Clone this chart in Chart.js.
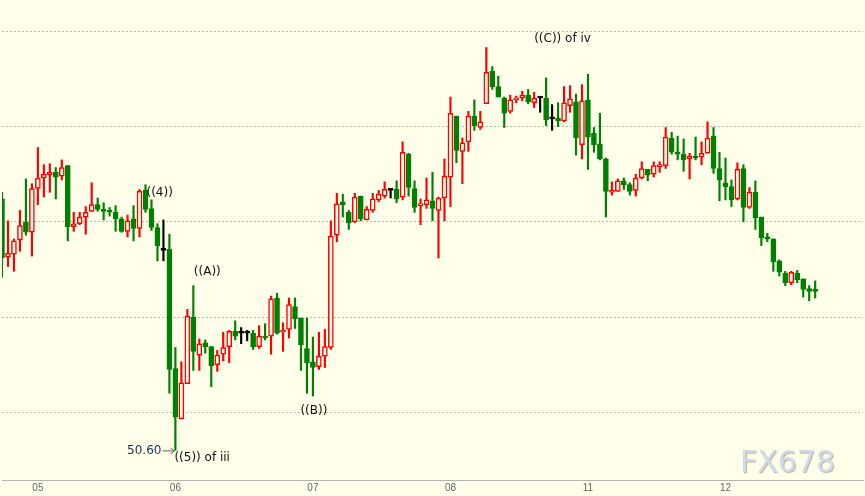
<!DOCTYPE html>
<html>
<head>
<meta charset="utf-8">
<script src="https://cdn.jsdelivr.net/npm/chart.js@4.4.1/dist/chart.umd.min.js"></script>
<style>
  body { margin: 0; background: #ffffea; }
  #wrap { width: 865px; height: 496px; }
</style>
</head>
<body>
<div id="wrap"><canvas id="candles"></canvas></div>
<script>
// hourly bars, 23 per session
var opens = [53.24,52.63,52.66,52.81,53.00,52.89,53.35,53.46,53.49,53.52,53.48,53.59,52.95,52.98,53.05,53.11,53.18,53.12,53.11,53.10,53.03,52.90,53.03,52.93,
  53.33,53.14,52.94,52.70,52.71,51.46,50.93,51.30,52.00,51.60,51.73,51.69,51.50,51.61,51.69,51.85,51.83,51.83,51.83,51.69,51.80,51.80,52.20,51.84,
  51.87,52.11,51.99,51.67,51.53,51.48,51.59,51.68,52.86,53.21,53.10,53.00,53.27,53.02,53.12,53.23,53.27,53.33,53.34,53.26,53.71,53.35,53.17,53.18,
  53.22,53.12,53.25,53.47,54.11,53.74,53.84,54.11,53.99,54.24,54.58,54.42,54.30,54.16,54.28,54.30,54.33,54.25,54.30,54.30,54.08,54.09,54.06,54.22,
  54.26,53.81,54.28,53.93,53.82,53.66,53.31,53.32,53.43,53.39,53.33,53.46,53.55,53.50,53.58,53.59,53.88,53.73,53.71,53.66,53.69,53.68,53.72,53.90,
  53.56,53.41,53.37,53.24,53.56,53.15,53.31,53.05,52.84,52.82,52.59,52.46,52.36,52.46,52.40,52.30,52.28];
var highs = [53.31,53.01,52.82,53.12,53.45,53.40,53.78,53.60,53.61,53.57,53.65,53.59,53.10,53.10,53.16,53.41,53.25,53.20,53.15,53.17,53.05,53.07,53.17,53.34,
  53.39,53.23,52.98,53.02,52.87,51.68,51.53,52.08,52.33,51.77,51.76,51.69,51.65,51.84,51.86,51.96,51.89,51.86,51.86,51.91,51.93,52.22,52.25,51.94,
  52.20,52.20,51.99,51.99,51.79,51.84,51.87,53.01,53.30,53.29,53.12,53.30,53.27,53.16,53.30,53.33,53.42,53.34,53.43,53.84,53.72,53.43,53.24,53.46,
  53.52,53.26,53.66,54.31,54.11,53.88,54.16,54.28,54.16,54.83,54.63,54.53,54.31,54.33,54.32,54.37,54.39,54.36,54.31,54.51,54.23,54.25,54.42,54.43,
  54.34,54.44,54.55,53.99,54.14,53.67,53.42,53.45,53.46,53.41,53.50,53.63,53.55,53.63,53.63,53.99,53.94,53.90,53.87,53.72,53.89,53.84,54.05,53.99,
  53.73,53.67,53.44,53.62,53.60,53.36,53.43,53.05,52.88,52.82,52.60,52.48,52.48,52.49,52.40,52.33,52.38];
var lows = [52.42,52.53,52.48,52.69,52.86,52.64,53.18,53.26,53.31,53.24,53.44,52.80,52.90,52.97,52.87,53.11,53.11,53.02,53.06,52.90,52.89,52.84,52.80,52.84,
  53.10,52.91,52.59,52.59,51.20,50.60,50.93,51.30,51.44,51.44,51.62,51.27,51.43,51.54,51.52,51.76,51.72,51.75,51.66,51.67,51.76,51.61,51.82,51.64,
  51.78,51.88,51.44,51.20,51.17,51.45,51.47,51.66,52.79,53.05,52.92,52.99,53.01,53.02,53.10,53.21,53.25,53.25,53.20,53.23,53.27,53.10,52.97,53.14,
  53.01,52.62,53.01,53.16,53.62,53.40,53.74,53.96,53.97,54.24,54.39,54.31,53.99,54.14,54.25,54.27,54.24,54.20,54.15,54.01,53.96,54.00,54.05,54.15,
  53.70,53.66,53.55,53.73,53.65,53.05,53.28,53.32,53.34,53.28,53.27,53.45,53.43,53.47,53.52,53.56,53.71,53.65,53.53,53.45,53.65,53.60,53.72,53.51,
  53.22,53.23,53.16,53.23,53.00,53.14,52.92,52.75,52.79,52.48,52.43,52.33,52.34,52.36,52.21,52.17,52.20];
var closes = [52.62,52.67,52.80,52.96,52.89,53.35,53.46,53.50,53.52,53.47,53.57,52.95,52.98,53.05,53.10,53.18,53.13,53.11,53.10,53.03,52.90,53.01,52.93,53.32,
  53.13,52.94,52.75,52.70,51.45,50.95,51.31,52.01,51.64,51.72,51.69,51.49,51.60,51.68,51.85,51.80,51.83,51.83,51.69,51.80,51.78,52.19,51.83,51.86,
  52.13,51.98,51.71,51.52,51.47,51.59,51.69,52.85,53.19,53.18,52.99,53.26,53.03,53.13,53.24,53.29,53.34,53.33,53.24,53.73,53.36,53.15,53.18,53.23,
  53.14,53.25,53.48,54.14,53.75,53.83,54.11,54.01,54.05,54.57,54.42,54.31,54.14,54.28,54.30,54.33,54.26,54.30,54.30,54.07,54.08,54.06,54.25,54.29,
  53.88,54.27,53.89,53.81,53.66,53.32,53.32,53.43,53.39,53.32,53.46,53.56,53.49,53.59,53.60,53.89,53.73,53.71,53.65,53.69,53.67,53.72,53.88,53.56,
  53.44,53.37,53.23,53.55,53.15,53.31,53.04,52.83,52.82,52.58,52.47,52.36,52.47,52.39,52.29,52.27,52.27];

var dayLabels = ['05', '06', '07', '08', '11', '12'];
var dayFirstBar = [6, 29, 52, 75, 98, 121];
var gridPrices = [51, 52, 53, 54, 55];
var lowLabel = '50.60';

var slotCount = 145;
var slots = [];
for (var i = 0; i < slotCount; i++) slots.push('');
dayFirstBar.forEach(function (b, i) { slots[b] = dayLabels[i]; });

var BG = '#ffffea', UP = '#ff0000', DOWN = '#008000', FLAT = '#000000';
var bodyFill = [], bodyLine = [], wickColor = [];
for (var i = 0; i < opens.length; i++) {
  if (closes[i] > opens[i]) { bodyFill.push(BG); bodyLine.push(UP); wickColor.push(UP); }
  else if (closes[i] < opens[i]) { bodyFill.push(DOWN); bodyLine.push(DOWN); wickColor.push(DOWN); }
  else { bodyFill.push(FLAT); bodyLine.push(FLAT); wickColor.push(FLAT); }
}

var notes = [
  { text: '((4))', bar: 24, price: 53.30, align: 'left', dx: 1 },
  { text: '((A))', bar: 34, price: 52.47, align: 'center', dx: 2 },
  { text: '((B))', bar: 52, price: 51.01, align: 'center', dx: 1 },
  { text: '((C)) of iv', bar: 89, price: 54.92, align: 'left', dx: 0 },
  { text: '((5)) of iii', bar: 29, price: 50.52, align: 'left', dx: -1 }
];

var notesPlugin = {
  id: 'notes',
  afterDatasetsDraw: function (chart) {
    var c = chart.ctx, xs = chart.scales.x, ys = chart.scales.y;
    c.save();
    c.font = '12px "DejaVu Sans"';
    c.textBaseline = 'middle';
    c.fillStyle = '#111';
    notes.forEach(function (n) {
      c.textAlign = n.align;
      c.fillText(n.text, xs.getPixelForValue(n.bar) + n.dx, ys.getPixelForValue(n.price));
    });
    // low marker with arrow
    var lx = xs.getPixelForValue(29), ly = ys.getPixelForValue(lows[29]);
    c.fillStyle = '#1c2e4e';
    c.textAlign = 'right';
    c.fillText(lowLabel, lx - 14, ly);
    c.strokeStyle = '#666';
    c.lineWidth = 1;
    c.beginPath();
    c.moveTo(lx - 13, ly + 0.5); c.lineTo(lx - 1, ly + 0.5);
    c.moveTo(lx - 5, ly - 2.5); c.lineTo(lx - 1, ly + 0.5); c.lineTo(lx - 5, ly + 3.5);
    c.stroke();
    // watermark
    c.font = '30px "DejaVu Sans"';
    c.textAlign = 'right';
    c.textBaseline = 'alphabetic';
    c.shadowColor = 'rgba(140,120,90,0.6)';
    c.shadowOffsetX = 1; c.shadowOffsetY = 1; c.shadowBlur = 1;
    c.fillStyle = '#cfdcee';
    c.fillText('FX678', chart.width - 30, 472);
    c.restore();
  }
};

var bgPlugin = {
  id: 'bg',
  beforeDraw: function (chart) {
    var c = chart.ctx;
    c.save();
    c.fillStyle = BG;
    c.fillRect(0, 0, chart.width, chart.height);
    c.restore();
  }
};

new Chart(document.getElementById('candles'), {
  type: 'bar',
  data: {
    labels: slots,
    datasets: [
      {
        label: 'body',
        data: opens.map(function (o, i) { return [o, closes[i]]; }),
        backgroundColor: bodyFill,
        borderColor: bodyLine,
        borderWidth: 1.5,
        borderSkipped: false,
        barThickness: 5,
        minBarLength: 2,
        grouped: false
      },
      {
        label: 'wick',
        data: lows.map(function (l, i) { return [l, highs[i]]; }),
        backgroundColor: wickColor,
        borderWidth: 0,
        barThickness: 1.5,
        grouped: false
      }
    ]
  },
  options: {
    responsive: true,
    maintainAspectRatio: false,
    animation: false,
    layout: { padding: 0 },
    plugins: { legend: { display: false }, tooltip: { enabled: false } },
    scales: {
      x: {
        type: 'category',
        offset: false,
        grid: { display: false, drawTicks: false },
        border: { display: true, color: '#b4b4b4', width: 1 },
        ticks: {
          autoSkip: false, maxRotation: 0, padding: 2,
          color: '#666', font: { family: 'Liberation Sans', size: 10 }
        }
      },
      y: {
        min: 50.289,
        max: 55.329,
        afterBuildTicks: function (s) { s.ticks = gridPrices.map(function (v) { return { value: v }; }); },
        grid: { color: '#bdbdb2', lineWidth: 1, drawTicks: false },
        border: { display: false, dash: [2, 2] },
        ticks: { display: false }
      }
    }
  },
  plugins: [bgPlugin, notesPlugin]
});
</script>
</body>
</html>
